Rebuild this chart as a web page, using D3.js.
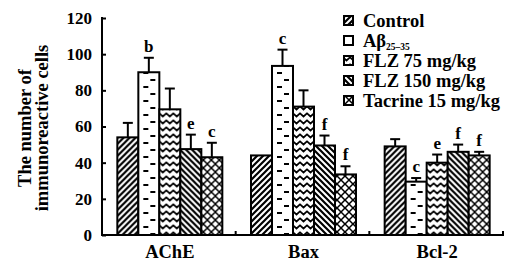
<!DOCTYPE html>
<html>
<head>
<meta charset="utf-8">
<script src="https://cdn.jsdelivr.net/npm/d3@7"></script>
<style>
  body { margin: 0; background: #fff; }
  svg { display: block; }
  text { font-family: "Liberation Serif", "Times New Roman", serif; font-weight: bold; fill: #000; }
</style>
</head>
<body>
<svg id="chart" width="505" height="264"></svg>
<script>
// data
var groups = ["AChE", "Bax", "Bcl-2"];
var series = ["Control", "Abeta", "FLZ 75 mg/kg", "FLZ 150 mg/kg", "Tacrine 15 mg/kg"];
var patternTypes = ["fwd", "dash", "zig", "back", "cross"];
var yTicks = [0, 20, 40, 60, 80, 100, 120];

var means = [
    [54, 90, 69.5, 47.5, 43],
    [44, 93.5, 71, 49.5, 33.5],
    [49, 29.5, 40, 46, 44]
];
var errors = [
    [8, 8, 11.5, 8, 8],
    [0, 9, 9, 5.5, 4.5],
    [4, 2, 4.5, 4, 2]
];
var letters = [
    ["", "b", "", "e", "c"],
    ["", "c", "", "f", "f"],
    ["", "c", "e", "f", "f"]
];

var svg = d3.select("#chart");
var defs = svg.append("defs");

var y = d3.scaleLinear().domain([0, 120]).range([235, 18]);
var x0 = d3.scaleBand().domain(groups).range([102, 503]).padding(0);
var barW = 21;
var x1 = d3.scaleBand().domain(series).range([0, barW * series.length]).padding(0);
var offset = (x0.bandwidth() - barW * series.length) / 2 + 1;

function makePattern(id, type, px) {
    var p;
    if (type == "fwd") {
        p = defs.append("pattern").attr("id", id).attr("patternUnits", "userSpaceOnUse")
            .attr("x", px).attr("y", 0).attr("width", 6).attr("height", 6);
        p.append("rect").attr("width", 6).attr("height", 6).attr("fill", "#fff");
        p.append("path").attr("d", "M-1,1 l2,-2 M0,6 l6,-6 M5,7 l2,-2")
            .attr("stroke", "#000").attr("stroke-width", 2.2);
    } else if (type == "back") {
        p = defs.append("pattern").attr("id", id).attr("patternUnits", "userSpaceOnUse")
            .attr("x", px).attr("y", 0).attr("width", 6).attr("height", 6);
        p.append("rect").attr("width", 6).attr("height", 6).attr("fill", "#fff");
        p.append("path").attr("d", "M-1,5 l2,2 M0,0 l6,6 M5,-1 l2,2")
            .attr("stroke", "#000").attr("stroke-width", 2.2);
    } else if (type == "cross") {
        p = defs.append("pattern").attr("id", id).attr("patternUnits", "userSpaceOnUse")
            .attr("x", px + 2).attr("y", 0).attr("width", 8).attr("height", 8);
        p.append("rect").attr("width", 8).attr("height", 8).attr("fill", "#fff");
        p.append("path").attr("d", "M0,0 L8,8 M8,0 L0,8")
            .attr("stroke", "#000").attr("stroke-width", 1.5);
    } else if (type == "zig") {
        p = defs.append("pattern").attr("id", id).attr("patternUnits", "userSpaceOnUse")
            .attr("x", px).attr("y", 0).attr("width", 7).attr("height", 7);
        p.append("rect").attr("width", 7).attr("height", 7).attr("fill", "#fff");
        p.append("path").attr("d", "M-0.5,1 L3.5,4.5 L7.5,1")
            .attr("fill", "none").attr("stroke", "#000").attr("stroke-width", 1.7);
    } else {
        p = defs.append("pattern").attr("id", id).attr("patternUnits", "userSpaceOnUse")
            .attr("x", px).attr("y", 0).attr("width", 21).attr("height", 14);
        p.append("rect").attr("width", 21).attr("height", 14).attr("fill", "#fff");
        p.append("rect").attr("x", 5).attr("y", 2).attr("width", 5).attr("height", 2).attr("fill", "#000");
        p.append("rect").attr("x", 12).attr("y", 9).attr("width", 5).attr("height", 2).attr("fill", "#000");
    }
}

// bars
groups.forEach(function(g, gi) {
    var gx = x0(g) + offset;
    series.forEach(function(s, si) {
        var bx = gx + x1(s);
        var id = "pat-" + gi + "-" + si;
        makePattern(id, patternTypes[si], bx);
    });

    var grp = svg.append("g").attr("class", "group");
    grp.selectAll("rect.bar")
        .data(means[gi])
        .enter().append("rect")
        .attr("class", "bar")
        .attr("x", function(d, i) { return gx + x1(series[i]); })
        .attr("y", function(d) { return y(d); })
        .attr("width", barW)
        .attr("height", function(d) { return y(0) - y(d); })
        .attr("fill", function(d, i) { return "url(#pat-" + gi + "-" + i + ")"; })
        .attr("stroke", "#000")
        .attr("stroke-width", 2);

    // error bars
    means[gi].forEach(function(m, i) {
        var e = errors[gi][i];
        var cx = gx + x1(series[i]) + barW / 2;
        if (e > 0) {
            grp.append("line").attr("x1", cx).attr("x2", cx)
                .attr("y1", y(m)).attr("y2", y(m + e))
                .attr("stroke", "#000").attr("stroke-width", 2);
            grp.append("line").attr("x1", cx - 5).attr("x2", cx + 5)
                .attr("y1", y(m + e)).attr("y2", y(m + e))
                .attr("stroke", "#000").attr("stroke-width", 2);
        }
        if (letters[gi][i]) {
            grp.append("text").attr("x", cx).attr("y", y(m + e) - 6)
                .attr("text-anchor", "middle").attr("font-size", 17)
                .text(letters[gi][i]);
        }
    });
});

// y axis
var yAxis = d3.axisLeft(y).tickValues(yTicks).tickSizeInner(-4).tickSizeOuter(0).tickPadding(10);
var ya = svg.append("g").attr("transform", "translate(102,0)").call(yAxis);
ya.select(".domain").remove();
ya.selectAll("line").attr("stroke", "#000").attr("stroke-width", 2);
ya.selectAll("text").attr("font-size", 17).attr("font-family", "Liberation Serif").attr("font-weight", "bold").attr("fill", "#000");
svg.append("line").attr("x1", 102).attr("x2", 102).attr("y1", y(120) - 1).attr("y2", y(0) + 1)
    .attr("stroke", "#000").attr("stroke-width", 2);

// x axis
svg.append("line").attr("x1", 101).attr("x2", 504).attr("y1", y(0)).attr("y2", y(0))
    .attr("stroke", "#000").attr("stroke-width", 2);
svg.selectAll("line.sep")
    .data(groups)
    .enter().append("line")
    .attr("class", "sep")
    .attr("x1", function(d) { return x0(d) + x0.bandwidth(); })
    .attr("x2", function(d) { return x0(d) + x0.bandwidth(); })
    .attr("y1", y(0)).attr("y2", y(0) - 4)
    .attr("stroke", "#000").attr("stroke-width", 2);
svg.selectAll("text.glabel")
    .data(groups)
    .enter().append("text")
    .attr("class", "glabel")
    .attr("x", function(d) { return x0(d) + x0.bandwidth() / 2 + 1; })
    .attr("y", 258)
    .attr("text-anchor", "middle")
    .attr("font-size", 18.5)
    .text(function(d) { return d; });

// y title
var yt = svg.append("text").attr("transform", "translate(31,128) rotate(-90)")
    .attr("text-anchor", "middle").attr("font-size", 18.5);
yt.append("tspan").attr("x", 0).attr("y", 0).text("The number of");
yt.append("tspan").attr("x", 0).attr("y", 17).text("immunoreactive cells");

// legend
var legend = svg.append("g").attr("class", "legend");
series.forEach(function(s, i) {
    var ly = 21 + i * 20;
    var id = "leg-" + i;
    makePattern(id, patternTypes[i], 343);
    legend.append("rect").attr("x", 344).attr("y", ly - 5).attr("width", 9).attr("height", 9)
        .attr("fill", "url(#" + id + ")").attr("stroke", "#000").attr("stroke-width", 2);
    var t = legend.append("text").attr("x", 363).attr("y", ly + 6).attr("font-size", 18.5);
    if (i == 1) {
        t.append("tspan").text("A\u03b2");
        t.append("tspan").attr("font-size", 9.5).attr("dy", 3).text("25\u201335");
    } else {
        t.text(s);
    }
});
</script>
</body>
</html>
